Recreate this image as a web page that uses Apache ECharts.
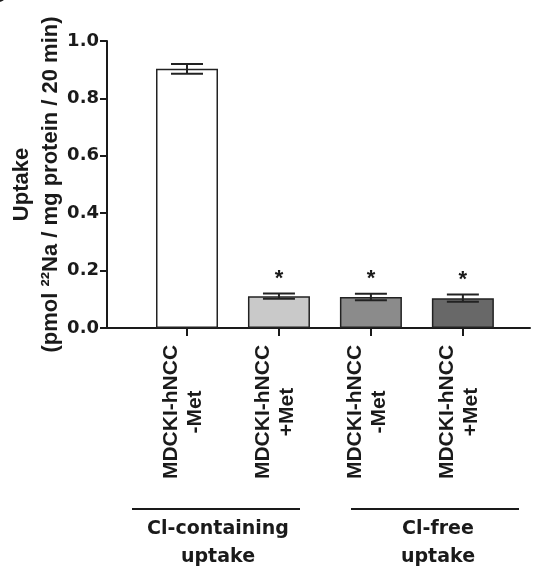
<!DOCTYPE html>
<html>
<head>
<meta charset="utf-8">
<script src="https://cdn.jsdelivr.net/npm/echarts@6/dist/echarts.min.js"></script>
<style>
html,body{margin:0;padding:0;background:#fff;}
#chart{width:539px;height:570px;}
</style>
</head>
<body>
<div id="chart"></div>
<script>
// ---- data ----
const categories = ['MDCKI-hNCC\n-Met', 'MDCKI-hNCC\n+Met', 'MDCKI-hNCC\n-Met', 'MDCKI-hNCC\n+Met'];
const uptakeMean = [0.903, 0.111, 0.108, 0.104];
const uptakeSem = [0.017, 0.009, 0.011, 0.0125];
const significance = ['', '*', '*', '*'];
const yTicks = [0.0, 0.2, 0.4, 0.6, 0.8, 1.0];
const groupLabels = ['Cl-containing\nuptake', 'Cl-free\nuptake'];
const barColors = ['#ffffff', '#c9c9c9', '#8b8b8b', '#686868'];

const catIdx = categories.map((c, i) => i);
const barData = catIdx.map(i => ({ value: [i, uptakeMean[i]], itemStyle: { color: barColors[i] } }));
const errData = catIdx.map(i => [i, uptakeMean[i], uptakeSem[i]]);

const chart = echarts.init(document.getElementById('chart'), null, { renderer: 'canvas' });
const ink = '#1a1a1a';

chart.setOption({
  animation: false,
  backgroundColor: '#ffffff',
  grid: { left: 107, right: 9, top: 41, bottom: 242, containLabel: false, outerBoundsMode: 'none' },
  xAxis: {
    type: 'value',
    min: -0.87,
    max: 3.73,
    splitLine: { show: false },
    axisLine: { show: true, onZero: false, lineStyle: { color: ink, width: 2 } },
    axisTick: { show: true, customValues: catIdx, length: 8, lineStyle: { color: ink, width: 2 } },
    axisLabel: {
      show: true,
      customValues: catIdx,
      rotate: 90,
      margin: 14,
      padding: [0, 0, 8, 0],
      formatter: function (v) {
        const c = categories[Math.round(v)] || '';
        return c.split('\n').map(s => '{a|' + s + '}').join('\n');
      },
      rich: {
        a: {
          width: 140, align: 'center', fontSize: 21, lineHeight: 24,
          fontWeight: 'bold', fontFamily: 'Liberation Sans', color: ink
        }
      }
    }
  },
  yAxis: {
    type: 'value',
    min: 0,
    max: 1,
    interval: 0.2,
    splitLine: { show: false },
    axisLine: { show: true, onZero: false, lineStyle: { color: ink, width: 2 } },
    axisTick: { show: true, length: 7, lineStyle: { color: ink, width: 2 } },
    axisLabel: {
      margin: 8,
      fontSize: 18, fontWeight: 'bold', fontFamily: 'DejaVu Sans', color: ink,
      formatter: v => {
        const t = yTicks.find(k => Math.abs(k - v) < 1e-6);
        return t === undefined ? '' : t.toFixed(1);
      }
    },
    name: 'Uptake\n(pmol ²²Na / mg protein / 20 min)',
    nameLocation: 'middle',
    nameRotate: 90,
    nameGap: 42,
    nameMoveOverlap: false,
    nameTextStyle: {
      fontSize: 22, fontWeight: 'bold', fontFamily: 'Liberation Sans', color: ink, lineHeight: 29
    }
  },
  series: [
    {
      type: 'bar',
      data: barData,
      barWidth: 62,
      itemStyle: { borderColor: '#222', borderWidth: 1.5 },
      z: 2
    },
    {
      type: 'custom',
      data: errData,
      z: 3,
      renderItem: function (params, api) {
        const x = api.value(0), m = api.value(1), e = api.value(2);
        const sig = significance[params.dataIndex];
        const top = api.coord([x, m + e]);
        const bot = api.coord([x, m - e]);
        const hw = 16;
        const st = { stroke: '#222', lineWidth: 2 };
        const children = [
          { type: 'line', shape: { x1: top[0], y1: top[1], x2: bot[0], y2: bot[1] }, style: st },
          { type: 'line', shape: { x1: top[0] - hw, y1: top[1], x2: top[0] + hw, y2: top[1] }, style: st },
          { type: 'line', shape: { x1: bot[0] - hw, y1: bot[1], x2: bot[0] + hw, y2: bot[1] }, style: st }
        ];
        if (sig) {
          children.push({
            type: 'text',
            style: {
              text: sig, x: top[0], y: top[1] - 15,
              align: 'center', verticalAlign: 'middle',
              fontSize: 22, fontWeight: 'bold', fontFamily: 'Liberation Sans', fill: ink
            }
          });
        }
        return { type: 'group', children: children };
      }
    }
  ],
  graphic: [
    { type: 'text', left: -12, top: -18, style: { text: 'C', fontSize: 26, fontWeight: 'bold', fontFamily: 'Liberation Sans', fill: ink } },
    { type: 'line', shape: { x1: 132, y1: 509, x2: 300, y2: 509 }, style: { stroke: ink, lineWidth: 2 } },
    { type: 'line', shape: { x1: 351, y1: 509, x2: 519, y2: 509 }, style: { stroke: ink, lineWidth: 2 } },
    { type: 'text', x: 218, y: 543, style: { text: groupLabels[0], align: 'center', verticalAlign: 'middle', lineHeight: 28, fontSize: 19, fontWeight: 'bold', fontFamily: 'DejaVu Sans', fill: ink } },
    { type: 'text', x: 438, y: 543, style: { text: groupLabels[1], align: 'center', verticalAlign: 'middle', lineHeight: 28, fontSize: 19, fontWeight: 'bold', fontFamily: 'DejaVu Sans', fill: ink } }
  ]
});
</script>
</body>
</html>
